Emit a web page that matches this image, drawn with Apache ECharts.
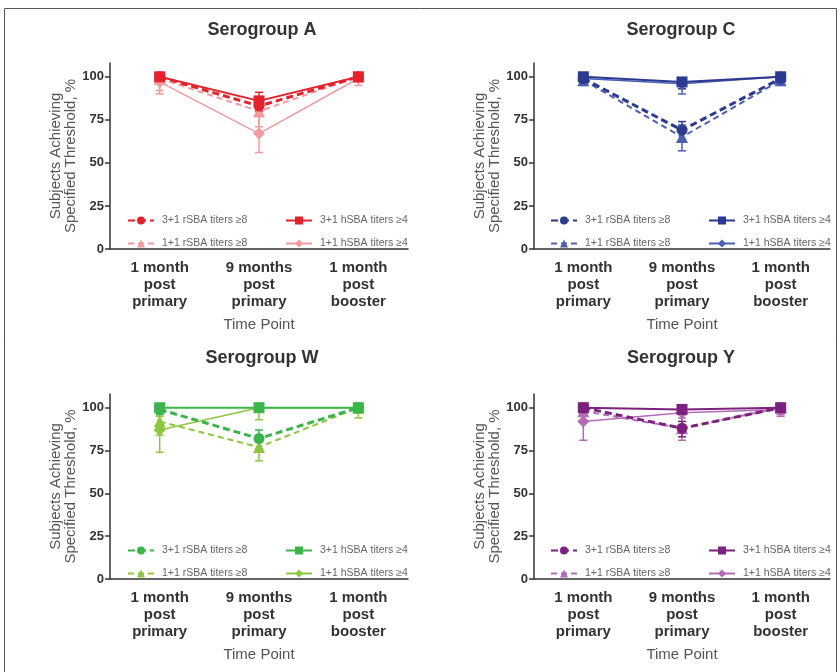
<!DOCTYPE html>
<html>
<head>
<meta charset="utf-8">
<script src="https://cdn.jsdelivr.net/npm/echarts@6/dist/echarts.min.js"></script>
<style>html,body{margin:0;padding:0;background:#fff}#c{width:840px;height:672px}</style>
</head>
<body>
<div id="c"></div>
<script>
// ---- data ----
const categories = ['1 month\npost\nprimary', '9 months\npost\nprimary', '1 month\npost\nbooster'];
const seriesNames = ['3+1 rSBA titers ≥8', '1+1 rSBA titers ≥8', '3+1 hSBA titers ≥4', '1+1 hSBA titers ≥4'];
const yTicks = [0, 25, 50, 75, 100];
const titles = ['Serogroup A', 'Serogroup C', 'Serogroup W', 'Serogroup Y'];

// values per panel: [3+1 rSBA, 1+1 rSBA, 3+1 hSBA, 1+1 hSBA]
const A_3p1_rSBA = [100, 83, 100], A_3p1_rSBA_lo = [97, 77, 98], A_3p1_rSBA_hi = [100, 88, 100];
const A_1p1_rSBA = [99, 80, 100], A_1p1_rSBA_lo = [92, 71, 97], A_1p1_rSBA_hi = [100, 87, 100];
const A_3p1_hSBA = [100, 86, 100], A_3p1_hSBA_lo = [98, 80, 98], A_3p1_hSBA_hi = [100, 91, 100];
const A_1p1_hSBA = [97, 67, 99], A_1p1_hSBA_lo = [90, 56, 95], A_1p1_hSBA_hi = [100, 78, 100];

const C_3p1_rSBA = [99, 69, 99], C_3p1_rSBA_lo = [96, 63, 97], C_3p1_rSBA_hi = [100, 74, 100];
const C_1p1_rSBA = [98, 65, 98], C_1p1_rSBA_lo = [95, 57, 95], C_1p1_rSBA_hi = [100, 72, 100];
const C_3p1_hSBA = [100, 97, 100], C_3p1_hSBA_lo = [98, 93, 98], C_3p1_hSBA_hi = [100, 99, 100];
const C_1p1_hSBA = [99, 96, 100], C_1p1_hSBA_lo = [96, 90, 97], C_1p1_hSBA_hi = [100, 99, 100];

const W_3p1_rSBA = [99, 82, 100], W_3p1_rSBA_lo = [96, 76, 98], W_3p1_rSBA_hi = [100, 87, 100];
const W_1p1_rSBA = [92, 77, 100], W_1p1_rSBA_lo = [84, 69, 97], W_1p1_rSBA_hi = [97, 84, 100];
const W_3p1_hSBA = [100, 100, 100], W_3p1_hSBA_lo = [98, 98, 98], W_3p1_hSBA_hi = [100, 100, 100];
const W_1p1_hSBA = [87, 100, 100], W_1p1_hSBA_lo = [74, 93, 94], W_1p1_hSBA_hi = [95, 100, 100];

const Y_3p1_rSBA = [100, 88, 100], Y_3p1_rSBA_lo = [97, 83, 98], Y_3p1_rSBA_hi = [100, 92, 100];
const Y_1p1_rSBA = [98, 88, 100], Y_1p1_rSBA_lo = [92, 81, 96], Y_1p1_rSBA_hi = [100, 94, 100];
const Y_3p1_hSBA = [100, 99, 100], Y_3p1_hSBA_lo = [98, 96, 98], Y_3p1_hSBA_hi = [100, 100, 100];
const Y_1p1_hSBA = [92, 97, 99], Y_1p1_hSBA_lo = [81, 90, 95], Y_1p1_hSBA_hi = [98, 99, 100];

const panelValues = [
  [[A_3p1_rSBA, A_3p1_rSBA_lo, A_3p1_rSBA_hi], [A_1p1_rSBA, A_1p1_rSBA_lo, A_1p1_rSBA_hi], [A_3p1_hSBA, A_3p1_hSBA_lo, A_3p1_hSBA_hi], [A_1p1_hSBA, A_1p1_hSBA_lo, A_1p1_hSBA_hi]],
  [[C_3p1_rSBA, C_3p1_rSBA_lo, C_3p1_rSBA_hi], [C_1p1_rSBA, C_1p1_rSBA_lo, C_1p1_rSBA_hi], [C_3p1_hSBA, C_3p1_hSBA_lo, C_3p1_hSBA_hi], [C_1p1_hSBA, C_1p1_hSBA_lo, C_1p1_hSBA_hi]],
  [[W_3p1_rSBA, W_3p1_rSBA_lo, W_3p1_rSBA_hi], [W_1p1_rSBA, W_1p1_rSBA_lo, W_1p1_rSBA_hi], [W_3p1_hSBA, W_3p1_hSBA_lo, W_3p1_hSBA_hi], [W_1p1_hSBA, W_1p1_hSBA_lo, W_1p1_hSBA_hi]],
  [[Y_3p1_rSBA, Y_3p1_rSBA_lo, Y_3p1_rSBA_hi], [Y_1p1_rSBA, Y_1p1_rSBA_lo, Y_1p1_rSBA_hi], [Y_3p1_hSBA, Y_3p1_hSBA_lo, Y_3p1_hSBA_hi], [Y_1p1_hSBA, Y_1p1_hSBA_lo, Y_1p1_hSBA_hi]]
];

// ---- styles / layout ----
const panelColors = [
  ['#e3232b', '#f29b9e'],
  ['#2b3990', '#4d5fb3'],
  ['#39b54a', '#8dc63f'],
  ['#7d2180', '#b36bb5']
];
const grids = [
  {left: 110, top: 63, width: 298, height: 186},
  {left: 534, top: 63, width: 296, height: 186},
  {left: 110, top: 394, width: 298, height: 185},
  {left: 534, top: 394, width: 296, height: 185}
];
const titlePos = [[262, 30], [681, 30], [262, 358], [681, 358]];
const legendPos = [[122, 210], [545, 210], [122, 540], [545, 540]];
const FONT = 'Liberation Sans, Arial, sans-serif';
const seriesStyle = [
  {symbol: 'circle', size: 11, type: [7, 4], width: 3, colorIdx: 0},
  {symbol: 'triangle', size: 12, type: [6, 4], width: 2, colorIdx: 1},
  {symbol: 'rect', size: 11, type: 'solid', width: 2, colorIdx: 0},
  {symbol: 'diamond', size: 12, type: 'solid', width: 1.5, colorIdx: 1}
];
const drawOrder = [3, 1, 2, 0];

const option = {
  animation: false,
  backgroundColor: '#fff',
  textStyle: {fontFamily: FONT},
  graphic: [
    {type: 'rect', shape: {x: 4.5, y: 8.5, width: 832, height: 700}, style: {fill: 'none', stroke: '#555', lineWidth: 1}}
  ],
  grid: grids,
  xAxis: [], yAxis: [], legend: [], series: []
};

titles.forEach((t, i) => {
  option.graphic.push({
    type: 'text', x: titlePos[i][0], y: titlePos[i][1],
    style: {text: t, fontSize: 18, fontWeight: 'bold', fill: '#333', fontFamily: FONT, textAlign: 'center', textVerticalAlign: 'middle'}
  });
});

grids.forEach((g, i) => {
  option.xAxis.push({
    type: 'category', gridIndex: i, data: categories, boundaryGap: true,
    name: 'Time Point', nameLocation: 'middle', nameGap: 68,
    nameTextStyle: {fontSize: 15, color: '#555', fontFamily: FONT},
    axisLine: {lineStyle: {color: '#333', width: 1.5}},
    axisTick: {alignWithLabel: true, length: 6, lineStyle: {color: '#333', width: 1.5}},
    axisLabel: {fontSize: 15, fontWeight: 'bold', color: '#333', lineHeight: 17, margin: 10, interval: 0, fontFamily: FONT},
    splitLine: {show: false}
  });
  option.yAxis.push({
    type: 'value', gridIndex: i, min: 0, max: 108,
    name: 'Subjects Achieving\nSpecified Threshold, %', nameLocation: 'middle', nameGap: 27,
    nameTextStyle: {fontSize: 15, color: '#555', lineHeight: 15, fontFamily: FONT},
    axisLine: {show: true, lineStyle: {color: '#333', width: 1.5}},
    axisTick: {show: true, length: 5, customValues: yTicks, lineStyle: {color: '#333', width: 1.5}},
    axisLabel: {fontSize: 13, fontWeight: 'bold', color: '#333', margin: 6, customValues: yTicks, fontFamily: FONT},
    splitLine: {show: false}
  });

  const prefix = 'P' + i + '|';
  const cols = panelColors[i];
  // error bars first
  drawOrder.forEach(k => {
    const st = seriesStyle[k];
    const color = cols[st.colorIdx];
    const [vals, lo, hi] = panelValues[i][k];
    option.series.push({
      type: 'custom', name: prefix + 'err' + k, xAxisIndex: i, yAxisIndex: i,
      z: 2,
      data: vals.map((v, j) => [j, lo[j], hi[j]]),
      encode: {x: 0, y: [1, 2]},
      renderItem: (params, api) => {
        const x = api.value(0);
        const p1 = api.coord([x, api.value(1)]);
        const p2 = api.coord([x, api.value(2)]);
        const w = 4;
        const s = {stroke: color, lineWidth: 1.5};
        return {type: 'group', children: [
          {type: 'line', shape: {x1: p1[0], y1: p1[1], x2: p2[0], y2: p2[1]}, style: s},
          {type: 'line', shape: {x1: p1[0] - w, y1: p1[1], x2: p1[0] + w, y2: p1[1]}, style: s},
          {type: 'line', shape: {x1: p2[0] - w, y1: p2[1], x2: p2[0] + w, y2: p2[1]}, style: s}
        ]};
      }
    });
  });
  drawOrder.forEach(k => {
    const st = seriesStyle[k];
    const color = cols[st.colorIdx];
    option.series.push({
      type: 'line', name: prefix + seriesNames[k], xAxisIndex: i, yAxisIndex: i,
      data: panelValues[i][k][0], z: 3,
      symbol: st.symbol, symbolSize: st.size, showAllSymbol: true,
      itemStyle: {color: color, borderWidth: 0},
      lineStyle: {color: color, width: st.width, type: st.type}
    });
  });

  const legCommon = {
    orient: 'vertical', itemWidth: 26, itemHeight: 10, itemGap: 12,
    textStyle: {fontSize: 10.5, color: '#666', fontFamily: FONT, padding: [0, 0, 0, 3]},
    formatter: n => n.split('|')[1],
    selectedMode: false
  };
  option.legend.push(Object.assign({}, legCommon, {
    left: legendPos[i][0], top: legendPos[i][1],
    data: [prefix + seriesNames[0], prefix + seriesNames[1]]
  }));
  option.legend.push(Object.assign({}, legCommon, {
    left: legendPos[i][0] + 158, top: legendPos[i][1],
    data: [prefix + seriesNames[2], prefix + seriesNames[3]]
  }));
});

const chart = echarts.init(document.getElementById('c'), null, {renderer: 'canvas'});
chart.setOption(option);
</script>
</body>
</html>
